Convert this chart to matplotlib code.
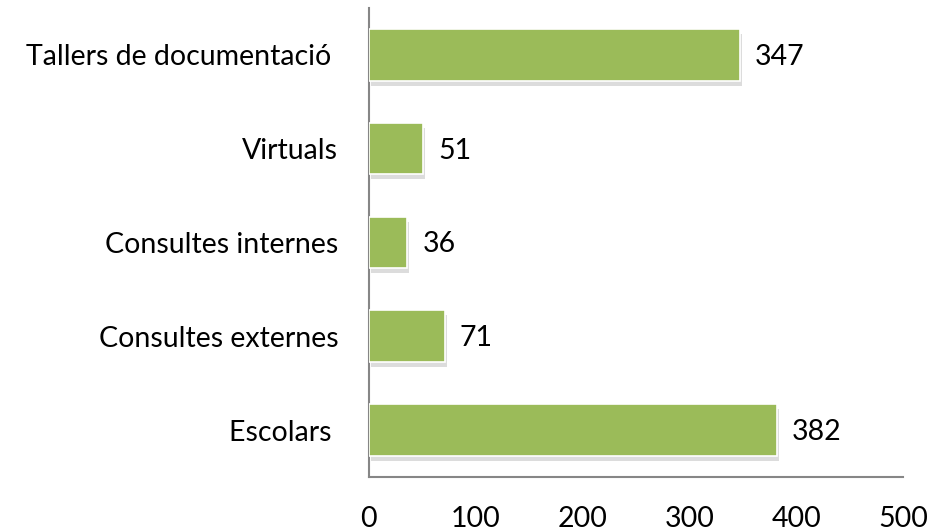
import matplotlib
matplotlib.use("Agg")
import matplotlib.pyplot as plt
import matplotlib.patheffects as pe

categories = ["Escolars ", "Consultes externes", "Consultes internes", "Virtuals", "Tallers de documentació "]
values = [382, 71, 36, 51, 347]
xticks = [0, 100, 200, 300, 400, 500]

plt.rcParams['font.family'] = ['Lato', 'DejaVu Sans']

fig = plt.figure(figsize=(9.29, 5.32), dpi=100)
ax = fig.add_axes([0.397, 0.1034, 0.575, 0.8816])

pos = list(range(len(categories)))
bars = ax.barh(pos, values, height=0.55, color='#9BBB59', edgecolor='white', linewidth=1.2,
               zorder=3)
for b in bars:
    b.set_path_effects([pe.SimplePatchShadow(offset=(1.5, -3.5), shadow_rgbFace='#8c8c8c', alpha=0.3),
                        pe.Normal()])

for p, v in zip(pos, values):
    ax.annotate(str(v), (v, p), xytext=(15, -2), textcoords='offset pixels',
                va='center', ha='left', fontsize=20.5, color='black')

ax.set_xlim(0, 500)
ax.set_ylim(-0.5, 4.5)
ax.set_xticks(xticks)
ax.set_xticklabels([str(t) for t in xticks])
ax.set_yticks(pos)
ax.set_yticklabels(categories)
ax.tick_params(axis='both', length=0, labelsize=20.5, colors='black')
ax.tick_params(axis='x', pad=21)
ax.tick_params(axis='y', pad=22)
for s in ['top', 'right']:
    ax.spines[s].set_visible(False)
for s in ['left', 'bottom']:
    ax.spines[s].set_color('#868686')
    ax.spines[s].set_linewidth(1.5)

fig.savefig('out.png', dpi=100, facecolor='white')
